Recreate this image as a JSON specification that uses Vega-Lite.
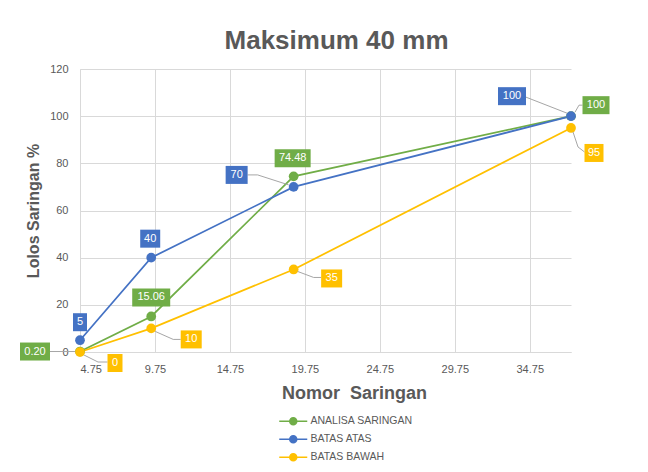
{
  "$schema": "https://vega.github.io/schema/vega-lite/v6.json",
  "width": 491,
  "height": 283,
  "autosize": "none",
  "padding": {"left": 80, "top": 69, "right": 77, "bottom": 120},
  "background": "white",
  "config": {
    "view": {"stroke": null},
    "font": "Liberation Sans"
  },
  "title": {
    "text": "Maksimum 40 mm",
    "fontSize": 26,
    "fontWeight": "bold",
    "color": "#595959",
    "font": "Liberation Sans",
    "anchor": "middle",
    "baseline": "alphabetic",
    "dx": 11,
    "dy": 29,
    "offset": 17
  },
  "data": {
    "values": [
      {"series": "ANALISA SARINGAN", "x": 4.75, "y": 0.2, "label": "0.20"},
      {"series": "ANALISA SARINGAN", "x": 9.5, "y": 15.06, "label": "15.06"},
      {"series": "ANALISA SARINGAN", "x": 19, "y": 74.48, "label": "74.48"},
      {"series": "ANALISA SARINGAN", "x": 37.5, "y": 100, "label": "100"},
      {"series": "BATAS ATAS", "x": 4.75, "y": 5, "label": "5"},
      {"series": "BATAS ATAS", "x": 9.5, "y": 40, "label": "40"},
      {"series": "BATAS ATAS", "x": 19, "y": 70, "label": "70"},
      {"series": "BATAS ATAS", "x": 37.5, "y": 100, "label": "100"},
      {"series": "BATAS BAWAH", "x": 4.75, "y": 0, "label": "0"},
      {"series": "BATAS BAWAH", "x": 9.5, "y": 10, "label": "10"},
      {"series": "BATAS BAWAH", "x": 19, "y": 35, "label": "35"},
      {"series": "BATAS BAWAH", "x": 37.5, "y": 95, "label": "95"}
    ]
  },
  "encoding": {
    "x": {
      "field": "x",
      "type": "quantitative",
      "scale": {"domain": [4.75, 37.5], "nice": false, "zero": false},
      "axis": {
        "values": [4.75, 9.75, 14.75, 19.75, 24.75, 29.75, 34.75],
        "format": ".2f",
        "ticks": false,
        "labelFontSize": 11,
        "labelColor": "#595959",
        "labelPadding": 11,
        "domainColor": "#D9D9D9",
        "gridColor": "#D9D9D9",
        "title": "Nomor\u00a0 Saringan",
        "titleFontSize": 18,
        "titleFontWeight": "bold",
        "titleColor": "#595959",
        "titleX": 274,
        "titleY": 41,
        "titleAlign": "center",
        "titleBaseline": "middle"
      }
    },
    "y": {
      "field": "y",
      "type": "quantitative",
      "scale": {"domain": [0, 120], "nice": false},
      "axis": {
        "values": [0, 20, 40, 60, 80, 100, 120],
        "ticks": false,
        "labelFontSize": 11,
        "labelColor": "#595959",
        "labelPadding": 12,
        "domainColor": "#D9D9D9",
        "gridColor": "#D9D9D9",
        "title": "Lolos Saringan %",
        "titleFontSize": 16,
        "titleFontWeight": "bold",
        "titleColor": "#595959",
        "titleX": -47,
        "titleY": 141.5,
        "titleAngle": 270,
        "titleAlign": "center",
        "titleBaseline": "middle"
      }
    }
  },
  "layer": [
    {
      "mark": {"type": "line", "strokeWidth": 1.75},
      "encoding": {
        "color": {
          "field": "series",
          "type": "nominal",
          "scale": {
            "domain": ["ANALISA SARINGAN", "BATAS ATAS", "BATAS BAWAH"],
            "range": ["#70AD47", "#4472C4", "#FFC000"]
          },
          "legend": {
            "orient": "none",
            "legendX": 208,
            "legendY": 347,
            "direction": "vertical",
            "title": null,
            "padding": 0,
            "labelFontSize": 10.5,
            "labelColor": "#595959",
            "labelOffset": 12,
            "rowPadding": 4,
            "symbolType": "M-14,0H14M3.5,0A3.5,3.5,0,1,1,-3.5,0A3.5,3.5,0,1,1,3.5,0Z",
            "symbolSize": 4,
            "symbolStrokeWidth": 1.5,
            "encode": {
              "symbols": {
                "update": {
                  "fill": {"scale": "color", "field": "value"},
                  "stroke": {"scale": "color", "field": "value"},
                  "opacity": {"value": 1}
                }
              }
            }
          }
        }
      }
    },
    {
      "mark": {"type": "point", "filled": true, "size": 95, "opacity": 1},
      "encoding": {
        "color": {"field": "series", "type": "nominal"}
      }
    },
    {
      "transform": [{"filter": "datum.series === 'ANALISA SARINGAN' && datum.x === 4.75"}],
      "layer": [
        {"mark": {"type": "point", "shape": "M-30,0H-5", "size": 4, "filled": false, "stroke": "#A6A6A6", "strokeWidth": 1, "opacity": 1}},
        {"mark": {"type": "point", "shape": "M-60,-9H-30V9H-60Z", "size": 4, "filled": true, "color": "#70AD47", "opacity": 1}},
        {"mark": {"type": "text", "dx": -45, "dy": 0, "align": "center", "baseline": "middle", "color": "white", "fontSize": 11}, "encoding": {"text": {"field": "label"}}}
      ]
    },
    {
      "transform": [{"filter": "datum.series === 'ANALISA SARINGAN' && datum.x === 9.5"}],
      "layer": [
        {"mark": {"type": "point", "shape": "M-19,-28H19V-10H-19Z", "size": 4, "filled": true, "color": "#70AD47", "opacity": 1}},
        {"mark": {"type": "text", "dx": 0, "dy": -19, "align": "center", "baseline": "middle", "color": "white", "fontSize": 11}, "encoding": {"text": {"field": "label"}}}
      ]
    },
    {
      "transform": [{"filter": "datum.series === 'ANALISA SARINGAN' && datum.x === 19"}],
      "layer": [
        {"mark": {"type": "point", "shape": "M-19,-27H17V-9H-19Z", "size": 4, "filled": true, "color": "#70AD47", "opacity": 1}},
        {"mark": {"type": "text", "dx": -1, "dy": -18, "align": "center", "baseline": "middle", "color": "white", "fontSize": 11}, "encoding": {"text": {"field": "label"}}}
      ]
    },
    {
      "transform": [{"filter": "datum.series === 'ANALISA SARINGAN' && datum.x === 37.5"}],
      "layer": [
        {"mark": {"type": "point", "shape": "M4,-4L8,-11H11.5", "size": 4, "filled": false, "stroke": "#A6A6A6", "strokeWidth": 1, "opacity": 1}},
        {"mark": {"type": "point", "shape": "M11.5,-20H38.5V-2H11.5Z", "size": 4, "filled": true, "color": "#70AD47", "opacity": 1}},
        {"mark": {"type": "text", "dx": 25, "dy": -11, "align": "center", "baseline": "middle", "color": "white", "fontSize": 11}, "encoding": {"text": {"field": "label"}}}
      ]
    },
    {
      "transform": [{"filter": "datum.series === 'BATAS ATAS' && datum.x === 4.75"}],
      "layer": [
        {"mark": {"type": "point", "shape": "M-7,-27H7V-9H-7Z", "size": 4, "filled": true, "color": "#4472C4", "opacity": 1}},
        {"mark": {"type": "text", "dx": 0, "dy": -18, "align": "center", "baseline": "middle", "color": "white", "fontSize": 11}, "encoding": {"text": {"field": "label"}}}
      ]
    },
    {
      "transform": [{"filter": "datum.series === 'BATAS ATAS' && datum.x === 9.5"}],
      "layer": [
        {"mark": {"type": "point", "shape": "M-11,-28H9V-10H-11Z", "size": 4, "filled": true, "color": "#4472C4", "opacity": 1}},
        {"mark": {"type": "text", "dx": -1, "dy": -19, "align": "center", "baseline": "middle", "color": "white", "fontSize": 11}, "encoding": {"text": {"field": "label"}}}
      ]
    },
    {
      "transform": [{"filter": "datum.series === 'BATAS ATAS' && datum.x === 19"}],
      "layer": [
        {"mark": {"type": "point", "shape": "M-46,-12H-36L-5,-2", "size": 4, "filled": false, "stroke": "#A6A6A6", "strokeWidth": 1, "opacity": 1}},
        {"mark": {"type": "point", "shape": "M-68,-21H-46V-3H-68Z", "size": 4, "filled": true, "color": "#4472C4", "opacity": 1}},
        {"mark": {"type": "text", "dx": -57, "dy": -12, "align": "center", "baseline": "middle", "color": "white", "fontSize": 11}, "encoding": {"text": {"field": "label"}}}
      ]
    },
    {
      "transform": [{"filter": "datum.series === 'BATAS ATAS' && datum.x === 37.5"}],
      "layer": [
        {"mark": {"type": "point", "shape": "M-45,-19L-4,-3", "size": 4, "filled": false, "stroke": "#A6A6A6", "strokeWidth": 1, "opacity": 1}},
        {"mark": {"type": "point", "shape": "M-73,-29H-45V-11H-73Z", "size": 4, "filled": true, "color": "#4472C4", "opacity": 1}},
        {"mark": {"type": "text", "dx": -59, "dy": -20, "align": "center", "baseline": "middle", "color": "white", "fontSize": 11}, "encoding": {"text": {"field": "label"}}}
      ]
    },
    {
      "transform": [{"filter": "datum.series === 'BATAS BAWAH' && datum.x === 4.75"}],
      "layer": [
        {"mark": {"type": "point", "shape": "M4,3L18,10H27.5", "size": 4, "filled": false, "stroke": "#A6A6A6", "strokeWidth": 1, "opacity": 1}},
        {"mark": {"type": "point", "shape": "M27.5,2H42.5V20H27.5Z", "size": 4, "filled": true, "color": "#FFC000", "opacity": 1}},
        {"mark": {"type": "text", "dx": 35, "dy": 11, "align": "center", "baseline": "middle", "color": "white", "fontSize": 11}, "encoding": {"text": {"field": "label"}}}
      ]
    },
    {
      "transform": [{"filter": "datum.series === 'BATAS BAWAH' && datum.x === 9.5"}],
      "layer": [
        {"mark": {"type": "point", "shape": "M4,3L22,11H29.5", "size": 4, "filled": false, "stroke": "#A6A6A6", "strokeWidth": 1, "opacity": 1}},
        {"mark": {"type": "point", "shape": "M29.5,2H50.5V20H29.5Z", "size": 4, "filled": true, "color": "#FFC000", "opacity": 1}},
        {"mark": {"type": "text", "dx": 40, "dy": 11, "align": "center", "baseline": "middle", "color": "white", "fontSize": 11}, "encoding": {"text": {"field": "label"}}}
      ]
    },
    {
      "transform": [{"filter": "datum.series === 'BATAS BAWAH' && datum.x === 19"}],
      "layer": [
        {"mark": {"type": "point", "shape": "M4,2L20,8H27.5", "size": 4, "filled": false, "stroke": "#A6A6A6", "strokeWidth": 1, "opacity": 1}},
        {"mark": {"type": "point", "shape": "M27.5,0H48.5V18H27.5Z", "size": 4, "filled": true, "color": "#FFC000", "opacity": 1}},
        {"mark": {"type": "text", "dx": 38, "dy": 9, "align": "center", "baseline": "middle", "color": "white", "fontSize": 11}, "encoding": {"text": {"field": "label"}}}
      ]
    },
    {
      "transform": [{"filter": "datum.series === 'BATAS BAWAH' && datum.x === 37.5"}],
      "layer": [
        {"mark": {"type": "point", "shape": "M2,4L7,19L13.5,24", "size": 4, "filled": false, "stroke": "#A6A6A6", "strokeWidth": 1, "opacity": 1}},
        {"mark": {"type": "point", "shape": "M13.5,16H32.5V34H13.5Z", "size": 4, "filled": true, "color": "#FFC000", "opacity": 1}},
        {"mark": {"type": "text", "dx": 23, "dy": 25, "align": "center", "baseline": "middle", "color": "white", "fontSize": 11}, "encoding": {"text": {"field": "label"}}}
      ]
    }
  ]
}
